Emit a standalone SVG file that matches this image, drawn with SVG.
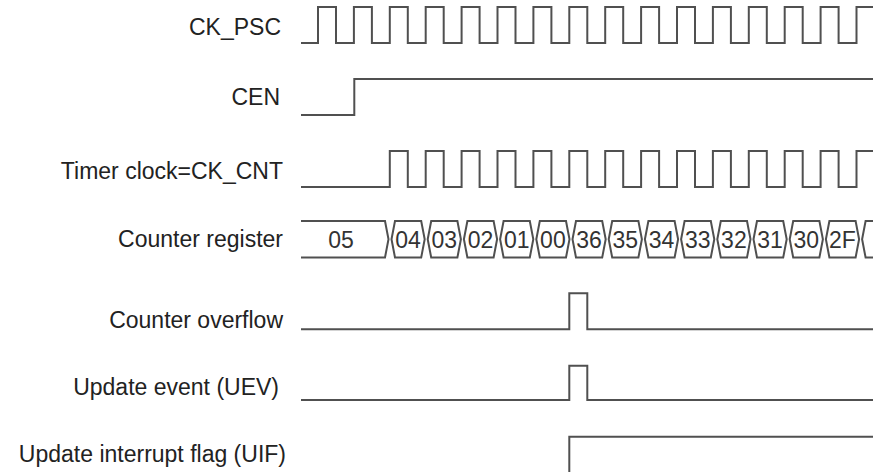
<svg xmlns="http://www.w3.org/2000/svg" xmlns:xlink="http://www.w3.org/1999/xlink" width="873" height="472" viewBox="0 0 873 472">
<style>
.sig{fill:none;stroke:#505050;stroke-width:2;stroke-linejoin:miter}
.lbl{font-family:"Liberation Sans",Arial,sans-serif;font-size:23px;fill:#222;text-anchor:end}
.val{font-family:"Liberation Sans",Arial,sans-serif;font-size:23px;fill:#333;text-anchor:middle}
</style>
<defs>
<path id="seg" class="sig" d="M5,221 H31.2 L34.7,239.25 L31.2,257.5 H5 L1.5,239.25 Z"/>
</defs>
<rect width="873" height="472" fill="#fff"/>
<g id="ck_psc">
<text class="lbl" x="281" y="35">CK_PSC</text>
<path class="sig" d="M301,43 H318 V7 H336 V43 H353.9 V7 H371.9 V43 H389.8 V7 H407.8 V43 H425.7 V7 H443.7 V43 H461.6 V7 H479.6 V43 H497.5 V7 H515.5 V43 H533.4 V7 H551.4 V43 H569.3 V7 H587.3 V43 H605.2 V7 H623.2 V43 H641.1 V7 H659.1 V43 H677 V7 H695 V43 H712.9 V7 H730.9 V43 H748.8 V7 H766.8 V43 H784.7 V7 H802.7 V43 H820.6 V7 H838.6 V43 H856.5 V7 H875"/>
</g>
<g id="cen">
<text class="lbl" x="280" y="105">CEN</text>
<path class="sig" d="M301,115 H354.3 V79 H875"/>
</g>
<g id="ck_cnt">
<text class="lbl" x="283" y="178.5">Timer clock=CK_CNT</text>
<path class="sig" d="M301,187 H389.8 V151 H407.8 V187 H425.7 V151 H443.7 V187 H461.6 V151 H479.6 V187 H497.5 V151 H515.5 V187 H533.4 V151 H551.4 V187 H569.3 V151 H587.3 V187 H605.2 V151 H623.2 V187 H641.1 V151 H659.1 V187 H677 V151 H695 V187 H712.9 V151 H730.9 V187 H748.8 V151 H766.8 V187 H784.7 V151 H802.7 V187 H820.6 V151 H838.6 V187 H856.5 V151 H875"/>
</g>
<g id="counter_register">
<text class="lbl" x="283" y="247">Counter register</text>
<path class="sig" d="M301,221 H385 L388.5,239.25 L385,257.5 H301"/>
<use xlink:href="#seg" x="390"/>
<use xlink:href="#seg" x="426.2"/>
<use xlink:href="#seg" x="462.4"/>
<use xlink:href="#seg" x="498.6"/>
<use xlink:href="#seg" x="534.8"/>
<use xlink:href="#seg" x="571"/>
<use xlink:href="#seg" x="607.2"/>
<use xlink:href="#seg" x="643.4"/>
<use xlink:href="#seg" x="679.6"/>
<use xlink:href="#seg" x="715.8"/>
<use xlink:href="#seg" x="752"/>
<use xlink:href="#seg" x="788.2"/>
<use xlink:href="#seg" x="824.4"/>
<path class="sig" d="M880,221 H865.6 L862.1,239.25 L865.6,257.5 H880"/>
<text class="val" x="341" y="248">05</text>
<text class="val" x="408.1" y="248">04</text>
<text class="val" x="444.3" y="248">03</text>
<text class="val" x="480.5" y="248">02</text>
<text class="val" x="516.7" y="248">01</text>
<text class="val" x="552.9" y="248">00</text>
<text class="val" x="589.1" y="248">36</text>
<text class="val" x="625.3" y="248">35</text>
<text class="val" x="661.5" y="248">34</text>
<text class="val" x="697.7" y="248">33</text>
<text class="val" x="733.9" y="248">32</text>
<text class="val" x="770.1" y="248">31</text>
<text class="val" x="806.3" y="248">30</text>
<text class="val" x="842.5" y="248">2F</text>
</g>
<g id="counter_overflow">
<text class="lbl" x="283" y="327.5">Counter overflow</text>
<path class="sig" d="M301,329.3 H569.3 V293.3 H587.3 V329.3 H875"/>
</g>
<g id="uev">
<text class="lbl" x="279" y="395">Update event (UEV)</text>
<path class="sig" d="M301,400 H569.3 V365.7 H587.3 V400 H875"/>
</g>
<g id="uif">
<text class="lbl" x="286" y="461.5">Update interrupt flag (UIF)</text>
<path class="sig" d="M569.3,476 V436.7 H875"/>
</g>
<g id="connectors"></g>
</svg>
